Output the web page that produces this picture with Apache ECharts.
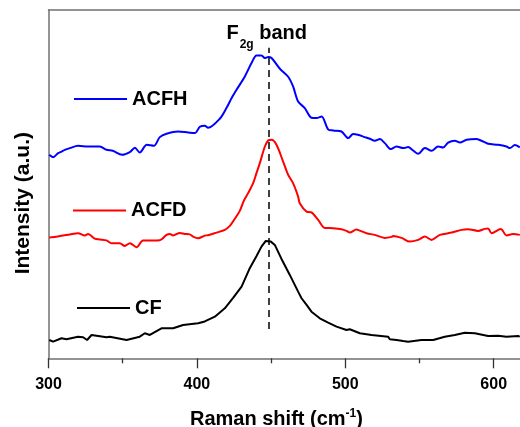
<!DOCTYPE html>
<html>
<head>
<meta charset="utf-8">
<script src="https://cdn.jsdelivr.net/npm/echarts@6/dist/echarts.min.js"></script>
<style>
  html, body { margin: 0; padding: 0; background: #fff; }
  #chart { width: 520px; height: 427px; }
</style>
</head>
<body>
<div id="chart"></div>
<script>
// Raman spectra, [shift (cm-1), intensity (a.u., stacked offsets)]
const acfh = [
  [300.5,203.3],[303.1,201],[306.5,205],[308.8,206.6],[311.0,208.3],[314.4,210],[319.9,212.3],[326.7,211.6],
  [334.6,211.6],[339.1,208.3],[343.3,207.3],[349.6,203.3],[354.8,206],[358.2,210.3],[361.5,205.6],[366.2,213.3],
  [371.0,212.3],[375.0,221],[379.5,224.3],[387.3,226.6],[394.1,225.6],[398.6,225],[402.0,231.3],[405.3,232.3],
  [407.5,230.3],[415.4,239.3],[419.9,250],[423.5,260.3],[426.7,268.3],[432.3,281.6],[436.8,295],[440.2,302.6],
  [443.5,302.6],[445.8,300],[448.0,301],[450.3,300],[455.9,289.3],[461.5,281.3],[464.8,271.6],[468.2,256.6],
  [472.7,250],[477.2,240.3],[480.6,240],[484.0,241.6],[488.4,228.8],[491.8,227.6],[497.4,226.6],[501.9,220],
  [505.3,224],[508.4,223.3],[513.1,221],[516.5,219.3],[519.9,217.3],[523.3,219],[526.6,215],[530.7,209],
  [534.5,211.6],[539.0,210],[542.3,211],[545.7,207.6],[549.1,204.3],[553.6,210],[558.1,207.3],[562.5,211.6],
  [565.9,210.6],[569.3,215.6],[573.8,217.3],[577.2,215.6],[581.7,218.3],[588.4,219],[592.9,216.6],[596.2,214.3],
  [603.0,213.3],[608.6,211.6],[610.9,210],[614.2,213],[617.6,210.8]
];
const acfd = [
  [300.5,120.8],[306.3,121.8],[309.8,122.6],[314.4,123.8],[319.9,125],[324.5,122.8],[326.7,124.3],[331.2,119.5],
  [334.6,118.8],[339.1,117.8],[342.5,115],[348.0,115],[351.4,112.3],[354.8,115],[359.3,111],[363.7,117.8],
  [369.4,117.8],[375.0,118],[379.5,123.3],[381.7,124.3],[384.0,122.8],[388.5,125.3],[391.8,124.3],[395.2,123.8],
  [397.4,121.6],[400.8,120],[405.3,122.6],[407.5,123],[413.2,125.6],[418.8,128.3],[422.2,132.3],[424.4,136.8],
  [428.9,147.3],[431.6,157.3],[434.5,165],[437.9,175],[440.2,185.3],[442.4,195],[445.8,211.6],[448.0,217.6],
  [450.3,218.3],[453.6,213.3],[458.1,196.6],[461.5,183.3],[464.8,175],[468.2,161.6],[469.3,155],[473.9,146.6],
  [477.2,145.8],[481.7,138.3],[486.2,130.3],[491.8,130],[497.4,129],[500.8,127.3],[503.0,125.6],[507.5,128.6],
  [509.8,127.6],[514.3,125],[519.9,123.3],[526.6,120.3],[531.1,121.3],[532.2,122.3],[537.9,120.3],[543.5,116.6],
  [549.1,118.3],[553.6,121.6],[558.1,118.3],[563.7,123.3],[571.8,125.6],[578.3,128.3],[582.7,129],[589.5,127.3],
  [594.0,129.3],[596.2,129.8],[598.5,125],[604.8,129.3],[608.6,122.8],[613.1,124.3],[617.6,123.3]
];
const cf = [
  [300.5,18.3],[303.1,16.6],[308.8,20],[312.1,19],[319.9,21.6],[323.3,21],[326.0,18.3],[329.0,23.3],
  [330.1,22.3],[339.1,21],[341.3,21.6],[352.6,18.3],[361.5,21.6],[364.9,25],[368.3,23.3],[376.1,30],
  [384.0,30],[390.7,33.3],[400.8,35],[402.0,33.3],[405.3,36.8],[412.1,41.6],[418.8,50],[424.4,60.3],
  [430.1,71.6],[435.7,90.3],[440.2,102.3],[443.5,111.6],[446.4,117.3],[449.6,116.8],[452.5,113.3],[457.0,99.3],
  [462.6,83.3],[468.2,66.6],[470.5,60],[473.9,53.3],[477.2,46.6],[482.8,40],[488.4,35.6],[494.1,31.6],
  [500.8,28.3],[503.0,29],[509.8,25],[517.7,23.3],[528.8,21.6],[530.0,19],[534.5,18.3],[539.0,17.3],
  [542.3,16.6],[551.3,18.3],[559.2,18.3],[560.3,20],[567.0,21.6],[573.8,23.3],[580.5,25.6],[587.3,25],
  [596.2,22.3],[603.0,22.6],[608.6,21.6],[616.4,22.3],[617.6,21.6]
];

const majorTicks = [300, 400, 500, 600];
const minorTicks = [350, 450, 550];
const bandShift = 448.4;          // F2g band position (cm-1)
const bandSpan = [29.3, 310.3];   // vertical extent of the band marker

const FONT = "'Liberation Sans', Arial, sans-serif";
const AXIS_GREY = '#707070';

const chart = echarts.init(document.getElementById('chart'), null, { renderer: 'canvas' });

// one short line-sample legend entry per spectrum, placed beside its curve
const legendBase = {
  orient: 'horizontal',
  padding: 0,
  icon: 'rect',
  itemWidth: 53,
  itemHeight: 2,
  textStyle: { fontFamily: FONT, fontWeight: 'bold', fontSize: 20, color: '#000' }
};

chart.setOption({
  backgroundColor: '#fff',
  animation: false,
  grid: { left: 48.5, top: 10, right: -3.4, bottom: 68.7, containLabel: false, outerBoundsMode: 'none' },
  legend: [
    Object.assign({}, legendBase, { data: ['ACFH'], left: 74, top: 89 }),
    Object.assign({}, legendBase, { data: ['ACFD'], left: 73, top: 200.5 }),
    Object.assign({}, legendBase, { data: ['CF'], left: 77, top: 298 })
  ],
  xAxis: [
    {
      type: 'value', min: 300, max: 620, interval: 100, position: 'bottom',
      name: 'Raman shift (cm{sup|-1})',
      nameLocation: 'middle', nameGap: 49,
      nameTextStyle: {
        fontFamily: FONT, fontWeight: 'bold', fontSize: 20, color: '#000',
        padding: [0, 19, 0, 0],
        rich: { sup: { fontFamily: FONT, fontWeight: 'bold', fontSize: 12, color: '#000', padding: [0, 0, 12, 0] } }
      },
      axisLine: { show: true, onZero: false, lineStyle: { color: AXIS_GREY, width: 1.5 } },
      axisTick: { show: true, inside: false, length: 10, customValues: majorTicks, lineStyle: { color: '#333', width: 1.3 } },
      minorTick: { show: false },
      axisLabel: {
        customValues: majorTicks, margin: 18,
        fontFamily: FONT, fontWeight: 'bold', fontSize: 16, color: '#000'
      },
      splitLine: { show: false }
    },
    {
      // half-step ticks on the bottom axis
      type: 'value', min: 300, max: 620, interval: 100, position: 'bottom',
      axisLine: { show: false },
      axisTick: { show: true, inside: false, length: 5, customValues: minorTicks, lineStyle: { color: '#333', width: 1.3 } },
      axisLabel: { show: false },
      splitLine: { show: false }
    },
    {
      // top frame line
      type: 'value', min: 300, max: 620, position: 'top',
      axisLine: { show: true, onZero: false, lineStyle: { color: AXIS_GREY, width: 1.5 } },
      axisTick: { show: false },
      axisLabel: { show: false },
      splitLine: { show: false }
    }
  ],
  yAxis: {
    type: 'value', min: 0, max: 348,
    name: 'Intensity (a.u.)',
    nameLocation: 'middle', nameGap: 15, nameRotate: 90,
    nameTextStyle: { fontFamily: FONT, fontWeight: 'bold', fontSize: 21, color: '#000', padding: [0, 38, 0, 0] },
    axisLine: { show: true, onZero: false, lineStyle: { color: AXIS_GREY, width: 1.5 } },
    axisTick: { show: false },
    axisLabel: { show: false },
    splitLine: { show: false }
  },
  series: [
    {
      name: 'ACFH', type: 'line', data: acfh, xAxisIndex: 0,
      symbol: 'none', smooth: 0.3,
      lineStyle: { color: '#0000ff', width: 2 }, itemStyle: { color: '#0000ff' }
    },
    {
      name: 'ACFD', type: 'line', data: acfd, xAxisIndex: 0,
      symbol: 'none', smooth: 0.3,
      lineStyle: { color: '#ff0000', width: 2 }, itemStyle: { color: '#ff0000' },
      markLine: {
        silent: true, symbol: 'none', animation: false,
        lineStyle: { color: '#000', width: 1.5, type: [7, 5] },
        label: {
          show: true, position: 'end', distance: -3,
          formatter: 'F{sub|2g} band',
          padding: [0, 4, 0, 0],
          fontFamily: FONT, fontWeight: 'bold', fontSize: 20, color: '#000',
          rich: { sub: { fontFamily: FONT, fontWeight: 'bold', fontSize: 12, color: '#000', padding: [22, 0, 0, 1] } }
        },
        data: [[{ coord: [bandShift, bandSpan[0]] }, { coord: [bandShift, bandSpan[1]] }]]
      }
    },
    {
      name: 'CF', type: 'line', data: cf, xAxisIndex: 0,
      symbol: 'none', smooth: false,
      lineStyle: { color: '#000', width: 2 }, itemStyle: { color: '#000' }
    }
  ]
});
</script>
</body>
</html>
